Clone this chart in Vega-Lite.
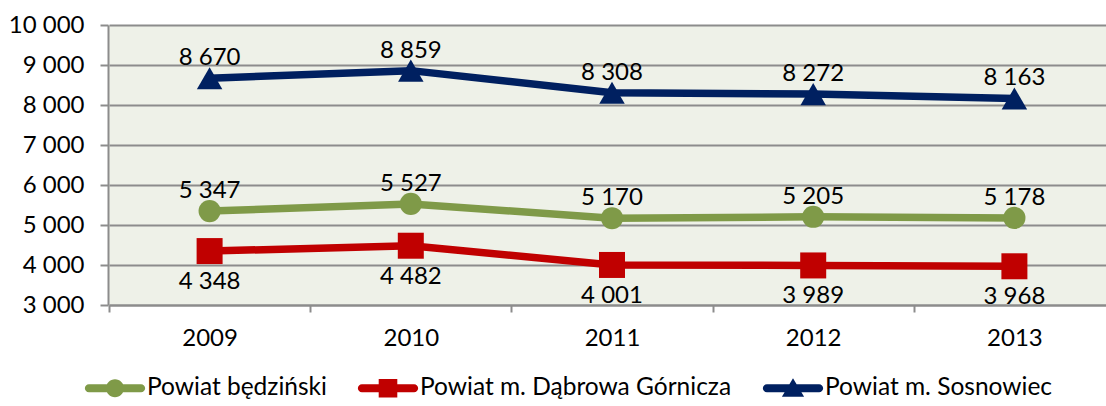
{
  "$schema": "https://vega.github.io/schema/vega-lite/v6.json",
  "autosize": {"type": "none"},
  "padding": {"left": 108, "top": 25, "right": 0, "bottom": 101},
  "width": 998,
  "height": 280,
  "background": "white",
  "config": {
    "font": "Lato",
    "locale": {"number": {"decimal": ",", "thousands": " ", "grouping": [3], "currency": ["", " zł"]}},
    "view": {"fill": "#EEF1E8", "stroke": null}
  },
  "data": {"values": [
    {"year": "2009", "series": "Powiat będziński", "value": 5347},
    {"year": "2010", "series": "Powiat będziński", "value": 5527},
    {"year": "2011", "series": "Powiat będziński", "value": 5170},
    {"year": "2012", "series": "Powiat będziński", "value": 5205},
    {"year": "2013", "series": "Powiat będziński", "value": 5178},
    {"year": "2009", "series": "Powiat m. Dąbrowa Górnicza", "value": 4348},
    {"year": "2010", "series": "Powiat m. Dąbrowa Górnicza", "value": 4482},
    {"year": "2011", "series": "Powiat m. Dąbrowa Górnicza", "value": 4001},
    {"year": "2012", "series": "Powiat m. Dąbrowa Górnicza", "value": 3989},
    {"year": "2013", "series": "Powiat m. Dąbrowa Górnicza", "value": 3968},
    {"year": "2009", "series": "Powiat m. Sosnowiec", "value": 8670},
    {"year": "2010", "series": "Powiat m. Sosnowiec", "value": 8859},
    {"year": "2011", "series": "Powiat m. Sosnowiec", "value": 8308},
    {"year": "2012", "series": "Powiat m. Sosnowiec", "value": 8272},
    {"year": "2013", "series": "Powiat m. Sosnowiec", "value": 8163}
  ]},
  "encoding": {
    "x": {
      "field": "year", "type": "ordinal",
      "scale": {"type": "band", "range": [1, 1007], "paddingInner": 0, "paddingOuter": 0},
      "axis": {
        "title": null, "labelAngle": 0, "labelFontSize": 24, "labelColor": "black",
        "labelPadding": 14, "tickBand": "extent", "ticks": true, "tickSize": 7,
        "tickColor": "#8c8c8c", "tickWidth": 2, "domainColor": "#8c8c8c", "domainWidth": 2, "grid": false
      }
    },
    "y": {
      "field": "value", "type": "quantitative",
      "scale": {"domain": [3000, 10000], "nice": false, "zero": false},
      "axis": {
        "title": null, "values": [3000, 4000, 5000, 6000, 7000, 8000, 9000, 10000],
        "format": ",d", "labelFontSize": 24, "labelColor": "black", "labelPadding": 16,
        "tickSize": 8, "tickColor": "#8c8c8c", "tickWidth": 2,
        "domainColor": "#8c8c8c", "domainWidth": 2,
        "grid": true, "gridColor": "#8c8c8c", "gridWidth": 2
      }
    }
  },
  "layer": [
    {
      "transform": [{"filter": "datum.series === 'Powiat będziński'"}],
      "mark": {"type": "line", "strokeWidth": 7.5, "strokeJoin": "round", "strokeCap": "round", "color": "#7F9A48"}
    },
    {
      "transform": [{"filter": "datum.series === 'Powiat m. Dąbrowa Górnicza'"}],
      "mark": {"type": "line", "strokeWidth": 7.5, "strokeJoin": "round", "strokeCap": "round", "color": "#C00000"}
    },
    {
      "transform": [{"filter": "datum.series === 'Powiat m. Sosnowiec'"}],
      "mark": {"type": "line", "strokeWidth": 7.5, "strokeJoin": "round", "strokeCap": "round", "color": "#002060"}
    },
    {
      "transform": [{"filter": "datum.series === 'Powiat będziński'"}],
      "mark": {"type": "point", "shape": "circle", "filled": true, "opacity": 1, "size": 490, "color": "#7F9A48"}
    },
    {
      "transform": [{"filter": "datum.series === 'Powiat m. Dąbrowa Górnicza'"}],
      "mark": {"type": "point", "shape": "square", "filled": true, "opacity": 1, "size": 676, "color": "#C00000"}
    },
    {
      "transform": [{"filter": "datum.series === 'Powiat m. Sosnowiec'"}],
      "mark": {"type": "point", "shape": "triangle-up", "filled": true, "opacity": 1, "size": 650, "color": "#002060"}
    },
    {
      "mark": {"type": "point", "filled": true, "opacity": 0, "size": 0},
      "encoding": {
        "color": {
          "field": "series", "type": "nominal",
          "scale": {
            "domain": ["Powiat będziński", "Powiat m. Dąbrowa Górnicza", "Powiat m. Sosnowiec"],
            "range": ["#7F9A48", "#C00000", "#002060"]
          },
          "legend": {
            "title": null, "orient": "none", "legendX": -23, "legendY": 333,
            "direction": "horizontal", "columns": 3,
            "symbolSize": 3600, "symbolOpacity": 1, "symbolStrokeWidth": 0,
            "labelFontSize": 24.5, "labelColor": "black", "labelLimit": 0,
            "labelOffset": 2, "columnPadding": 30, "padding": 0
          }
        },
        "shape": {
          "field": "series", "type": "nominal",
          "scale": {
            "domain": ["Powiat będziński", "Powiat m. Dąbrowa Górnicza", "Powiat m. Sosnowiec"],
            "range": [
              "M-0.87,-0.135L0.87,-0.135A0.135,0.135 0 0 1 0.87,0.135L-0.87,0.135A0.135,0.135 0 0 1 -0.87,-0.135ZM-0.3,0A0.3,0.3 0 1 1 0.3,0A0.3,0.3 0 1 1 -0.3,0Z",
              "M-0.87,-0.135L0.87,-0.135A0.135,0.135 0 0 1 0.87,0.135L-0.87,0.135A0.135,0.135 0 0 1 -0.87,-0.135ZM-0.31,-0.31L0.31,-0.31L0.31,0.31L-0.31,0.31Z",
              "M-0.87,-0.135L0.87,-0.135A0.135,0.135 0 0 1 0.87,0.135L-0.87,0.135A0.135,0.135 0 0 1 -0.87,-0.135ZM0,-0.33L0.37,0.28L-0.37,0.28Z"
            ]
          },
          "legend": {
            "title": null, "orient": "none", "legendX": -23, "legendY": 333,
            "direction": "horizontal", "columns": 3,
            "symbolSize": 3600, "symbolOpacity": 1, "symbolStrokeWidth": 0,
            "labelFontSize": 24.5, "labelColor": "black", "labelLimit": 0,
            "labelOffset": 2, "columnPadding": 30, "padding": 0
          }
        }
      }
    },
    {
      "transform": [{"filter": "datum.series !== 'Powiat m. Dąbrowa Górnicza'"}],
      "mark": {"type": "text", "dy": -20, "fontSize": 24, "baseline": "middle", "color": "black"},
      "encoding": {"text": {"field": "value", "type": "quantitative", "format": ",d"}}
    },
    {
      "transform": [{"filter": "datum.series === 'Powiat m. Dąbrowa Górnicza'"}],
      "mark": {"type": "text", "dy": 31, "fontSize": 24, "baseline": "middle", "color": "black"},
      "encoding": {"text": {"field": "value", "type": "quantitative", "format": ",d"}}
    }
  ]
}
